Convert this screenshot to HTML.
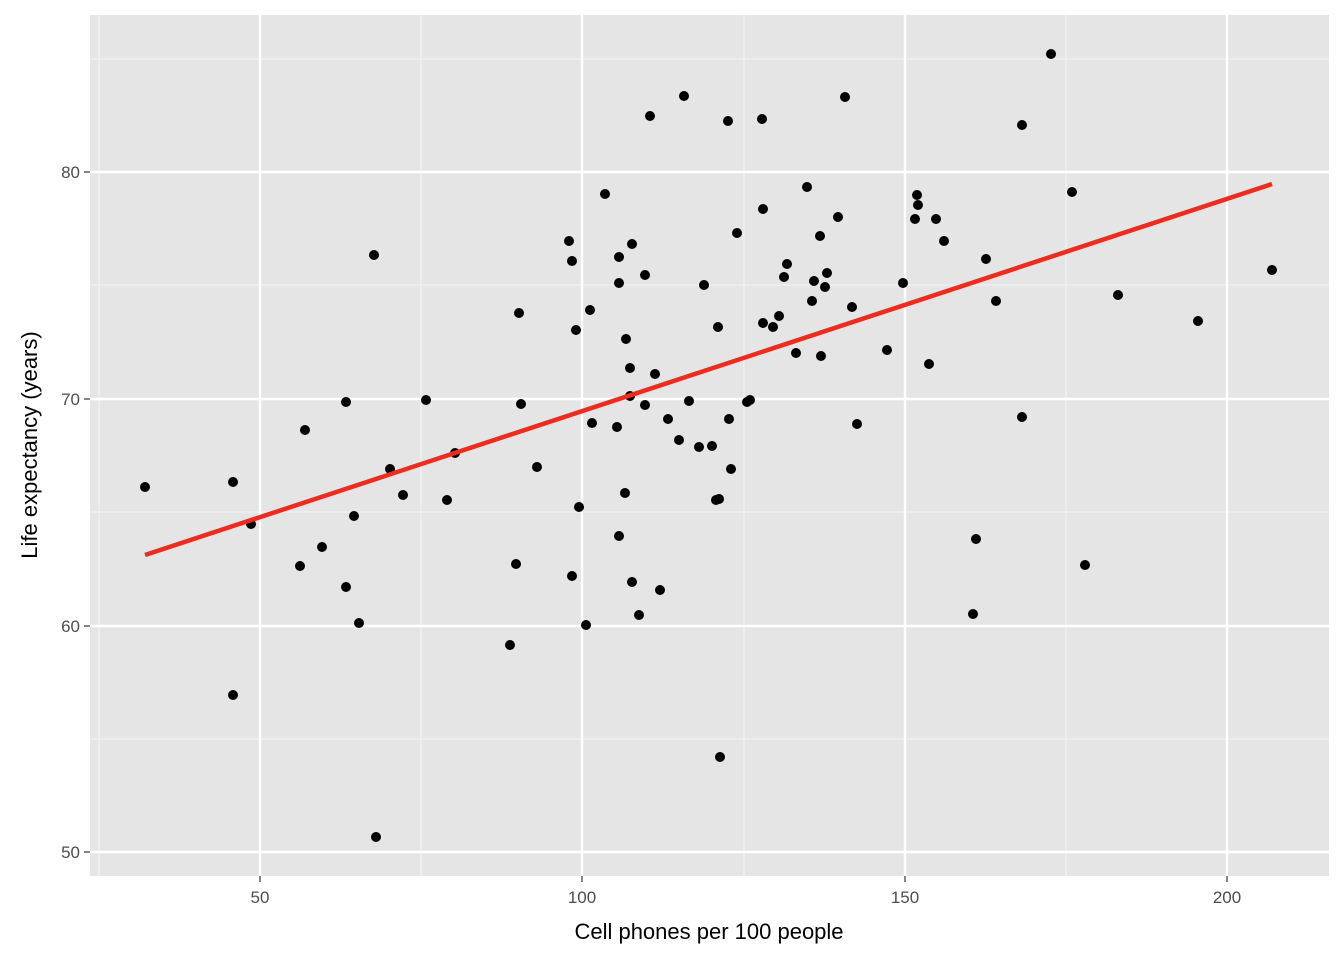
<!DOCTYPE html>
<html><head><meta charset="utf-8"><style>body{margin:0;background:#fff}svg{display:block}</style></head><body>
<svg width="1344" height="960" xmlns="http://www.w3.org/2000/svg" font-family="Liberation Sans, Arial, sans-serif">
<rect x="90" y="15" width="1239" height="861" fill="#e5e5e5"/>
<g stroke="#f2f2f2" stroke-width="1.2">
<line x1="99" x2="99" y1="15" y2="876"/><line x1="421" x2="421" y1="15" y2="876"/><line x1="744" x2="744" y1="15" y2="876"/><line x1="1066" x2="1066" y1="15" y2="876"/>
<line x1="90" x2="1329" y1="59" y2="59"/><line x1="90" x2="1329" y1="285" y2="285"/><line x1="90" x2="1329" y1="512" y2="512"/><line x1="90" x2="1329" y1="739" y2="739"/>
</g>
<g stroke="#fff" stroke-width="2.4">
<line x1="260" x2="260" y1="15" y2="876"/><line x1="582" x2="582" y1="15" y2="876"/><line x1="905" x2="905" y1="15" y2="876"/><line x1="1227" x2="1227" y1="15" y2="876"/>
<line x1="90" x2="1329" y1="172" y2="172"/><line x1="90" x2="1329" y1="399" y2="399"/><line x1="90" x2="1329" y1="626" y2="626"/><line x1="90" x2="1329" y1="852" y2="852"/>
</g>
<g fill="#000">
<circle cx="145" cy="487" r="5"/><circle cx="233" cy="482" r="5"/><circle cx="251" cy="524" r="5"/><circle cx="233" cy="695" r="5"/><circle cx="305" cy="430" r="5"/><circle cx="346" cy="402" r="5"/><circle cx="300" cy="566" r="5"/><circle cx="322" cy="547" r="5"/><circle cx="346" cy="587" r="5"/><circle cx="354" cy="516" r="5"/><circle cx="359" cy="623" r="5"/><circle cx="374" cy="255" r="5"/><circle cx="376" cy="837" r="5"/><circle cx="390" cy="469" r="5"/><circle cx="403" cy="495" r="5"/><circle cx="426" cy="400" r="5"/><circle cx="447" cy="500" r="5"/><circle cx="455" cy="453" r="5"/><circle cx="510" cy="645" r="5"/><circle cx="516" cy="564" r="5"/><circle cx="519" cy="313" r="5"/><circle cx="521" cy="404" r="5"/><circle cx="537" cy="467" r="5"/><circle cx="569" cy="241" r="5"/><circle cx="572" cy="261" r="5"/><circle cx="572" cy="576" r="5"/><circle cx="576" cy="330" r="5"/><circle cx="579" cy="507" r="5"/><circle cx="586" cy="625" r="5"/><circle cx="590" cy="310" r="5"/><circle cx="592" cy="423" r="5"/><circle cx="605" cy="194" r="5"/><circle cx="617" cy="427" r="5"/><circle cx="619" cy="257" r="5"/><circle cx="619" cy="283" r="5"/><circle cx="619" cy="536" r="5"/><circle cx="625" cy="493" r="5"/><circle cx="626" cy="339" r="5"/><circle cx="630" cy="368" r="5"/><circle cx="630" cy="396" r="5"/><circle cx="632" cy="244" r="5"/><circle cx="632" cy="582" r="5"/><circle cx="639" cy="615" r="5"/><circle cx="645" cy="275" r="5"/><circle cx="645" cy="405" r="5"/><circle cx="650" cy="116" r="5"/><circle cx="655" cy="374" r="5"/><circle cx="660" cy="590" r="5"/><circle cx="668" cy="419" r="5"/><circle cx="679" cy="440" r="5"/><circle cx="684" cy="96" r="5"/><circle cx="689" cy="401" r="5"/><circle cx="699" cy="447" r="5"/><circle cx="704" cy="285" r="5"/><circle cx="712" cy="446" r="5"/><circle cx="716" cy="500" r="5"/><circle cx="718" cy="327" r="5"/><circle cx="719" cy="499" r="5"/><circle cx="720" cy="757" r="5"/><circle cx="728" cy="121" r="5"/><circle cx="729" cy="419" r="5"/><circle cx="731" cy="469" r="5"/><circle cx="737" cy="233" r="5"/><circle cx="747" cy="402" r="5"/><circle cx="750" cy="400" r="5"/><circle cx="762" cy="119" r="5"/><circle cx="763" cy="209" r="5"/><circle cx="763" cy="323" r="5"/><circle cx="773" cy="327" r="5"/><circle cx="779" cy="316" r="5"/><circle cx="784" cy="277" r="5"/><circle cx="787" cy="264" r="5"/><circle cx="796" cy="353" r="5"/><circle cx="807" cy="187" r="5"/><circle cx="812" cy="301" r="5"/><circle cx="814" cy="281" r="5"/><circle cx="820" cy="236" r="5"/><circle cx="821" cy="356" r="5"/><circle cx="825" cy="287" r="5"/><circle cx="827" cy="273" r="5"/><circle cx="838" cy="217" r="5"/><circle cx="845" cy="97" r="5"/><circle cx="852" cy="307" r="5"/><circle cx="857" cy="424" r="5"/><circle cx="887" cy="350" r="5"/><circle cx="903" cy="283" r="5"/><circle cx="915" cy="219" r="5"/><circle cx="917" cy="195" r="5"/><circle cx="918" cy="205" r="5"/><circle cx="929" cy="364" r="5"/><circle cx="936" cy="219" r="5"/><circle cx="944" cy="241" r="5"/><circle cx="973" cy="614" r="5"/><circle cx="976" cy="539" r="5"/><circle cx="986" cy="259" r="5"/><circle cx="996" cy="301" r="5"/><circle cx="1022" cy="125" r="5"/><circle cx="1022" cy="417" r="5"/><circle cx="1051" cy="54" r="5"/><circle cx="1072" cy="192" r="5"/><circle cx="1085" cy="565" r="5"/><circle cx="1118" cy="295" r="5"/><circle cx="1198" cy="321" r="5"/><circle cx="1272" cy="270" r="5"/>
</g>
<line x1="145" y1="555" x2="1272" y2="184" stroke="#ee2c1e" stroke-width="4.5"/>
<g stroke="#333" stroke-width="1.2">
<line x1="84" x2="90" y1="172" y2="172"/><line x1="84" x2="90" y1="399" y2="399"/><line x1="84" x2="90" y1="626" y2="626"/><line x1="84" x2="90" y1="852" y2="852"/>
<line x1="260" x2="260" y1="876" y2="882"/><line x1="582" x2="582" y1="876" y2="882"/><line x1="905" x2="905" y1="876" y2="882"/><line x1="1227" x2="1227" y1="876" y2="882"/>
</g>
<g fill="#4d4d4d" font-size="17" text-anchor="end">
<text x="80" y="178">80</text><text x="80" y="405">70</text><text x="80" y="632">60</text><text x="80" y="858">50</text>
</g>
<g fill="#4d4d4d" font-size="17" text-anchor="middle">
<text x="260" y="903">50</text><text x="582" y="903">100</text><text x="905" y="903">150</text><text x="1227" y="903">200</text>
</g>
<text x="709" y="939" font-size="22" text-anchor="middle" fill="#000">Cell phones per 100 people</text>
<text transform="translate(37,445) rotate(-90)" font-size="22" text-anchor="middle" fill="#000">Life expectancy (years)</text>
</svg>
</body></html>
